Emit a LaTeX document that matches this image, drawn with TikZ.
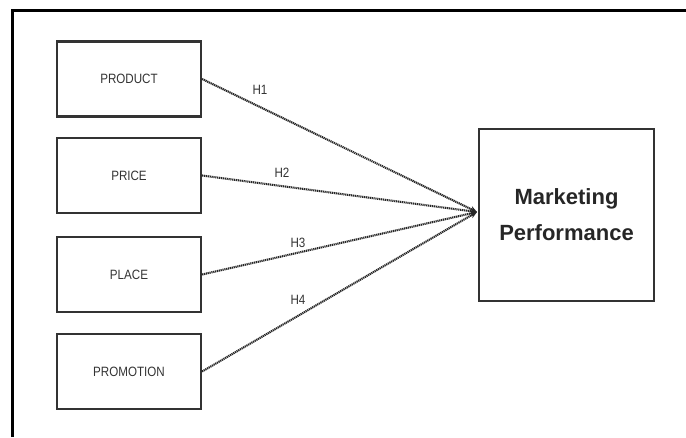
\documentclass[tikz,border=0pt]{standalone}
\usepackage{fontspec}
\setmainfont{Liberation Sans}
\newfontfamily\condfont[FakeStretch=0.86]{Liberation Sans}
\usetikzlibrary{arrows.meta}
\definecolor{ink}{HTML}{333333}
\begin{document}
\begin{tikzpicture}[x=1pt,y=-1pt,
  srcbox/.style={draw=ink,line width=2.2pt,minimum width=144pt,minimum height=75pt,inner sep=0pt,
    font=\condfont\fontsize{13.5}{15}\selectfont,text=ink},
  bigbox/.style={draw=ink,line width=2.4pt,minimum width=175pt,minimum height=172pt,inner sep=0pt,
    font=\fontsize{22}{38}\selectfont\bfseries,text=black!85,align=center},
  hlabel/.style={font=\condfont\fontsize{13.5}{15}\selectfont,text=ink,inner sep=0pt},
  link/.style={line width=2.1pt,draw=black!85,dash pattern=on 1.2pt off 0.7pt,-{Stealth[length=7pt,width=6pt]}}
]
\useasboundingbox (0,0) rectangle (686,437);
\draw[line width=3pt,black] (12,437) -- (12,10) -- (686,10);

\node[srcbox] (prod) at (129,79) {PRODUCT};
\node[srcbox] (price) at (129,175.5) {PRICE};
\node[srcbox] (place) at (129,274.5) {PLACE};
\node[srcbox] (promo) at (129,371.5) {PROMOTION};

\node[bigbox] (mp) at (566.5,215) {\raisebox{-2pt}{Marketing}\\Performance};
\coordinate (tip) at (477,212);

\draw[link] (prod.east) -- (tip);
\draw[link] (price.east) -- (tip);
\draw[link] (place.east) -- (tip);
\draw[link] (promo.east) -- (tip);

\node[hlabel] (h1) at (260,90) {H1};
\node[hlabel] (h2) at (282,173) {H2};
\node[hlabel] (h3) at (298,243) {H3};
\node[hlabel] (h4) at (298,300) {H4};
\end{tikzpicture}
\end{document}
